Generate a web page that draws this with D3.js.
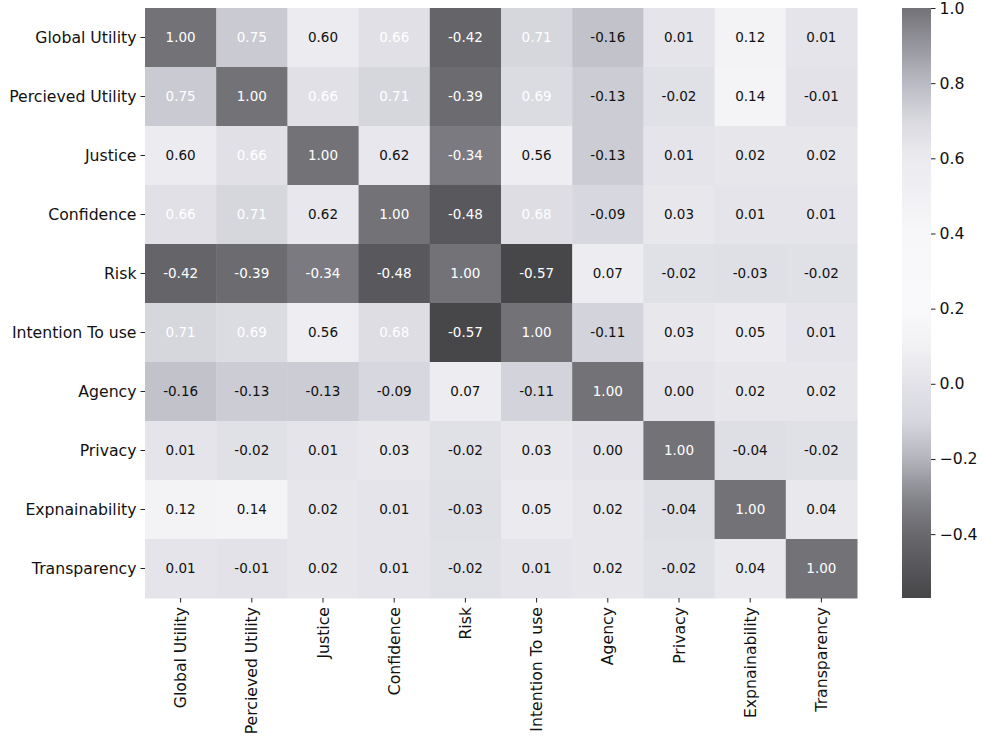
<!DOCTYPE html>
<html>
<head>
<meta charset="utf-8">
<script src="https://cdn.jsdelivr.net/npm/d3@7"></script>
<style>
  body { margin: 0; background: #fff; }
  text { font-family: "DejaVu Sans", sans-serif; }
  .axis path { display: none; }
  .axis line { stroke: #222; }
</style>
</head>
<body>
<div id="chart"></div>
<script>
// variable names, same order on both axes
const labels = ["Global Utility", "Percieved Utility", "Justice", "Confidence", "Risk",
  "Intention To use", "Agency", "Privacy", "Expnainability", "Transparency"];

// correlation rows (hidden white labels estimated)
const rowGlobalUtility   = [1.00, 0.75, 0.60, 0.66, -0.42, 0.71, -0.16, 0.01, 0.12, 0.01];
const rowPerceivedUtility = [0.75, 1.00, 0.66, 0.71, -0.39, 0.69, -0.13, -0.02, 0.14, -0.01];
const rowJustice         = [0.60, 0.66, 1.00, 0.62, -0.34, 0.56, -0.13, 0.01, 0.02, 0.02];
const rowConfidence      = [0.66, 0.71, 0.62, 1.00, -0.48, 0.68, -0.09, 0.03, 0.01, 0.01];
const rowRisk            = [-0.42, -0.39, -0.34, -0.48, 1.00, -0.57, 0.07, -0.02, -0.03, -0.02];
const rowIntention       = [0.71, 0.69, 0.56, 0.68, -0.57, 1.00, -0.11, 0.03, 0.05, 0.01];
const rowAgency          = [-0.16, -0.13, -0.13, -0.09, 0.07, -0.11, 1.00, 0.00, 0.02, 0.02];
const rowPrivacy         = [0.01, -0.02, 0.01, 0.03, -0.02, 0.03, 0.00, 1.00, -0.04, -0.02];
const rowExplainability  = [0.12, 0.14, 0.02, 0.01, -0.03, 0.05, 0.02, -0.04, 1.00, 0.04];
const rowTransparency    = [0.01, -0.01, 0.02, 0.01, -0.02, 0.01, 0.02, -0.02, 0.04, 1.00];

const matrix = [rowGlobalUtility, rowPerceivedUtility, rowJustice, rowConfidence, rowRisk,
  rowIntention, rowAgency, rowPrivacy, rowExplainability, rowTransparency];

const colorTicks = [-0.4, -0.2, 0.0, 0.2, 0.4, 0.6, 0.8, 1.0];

const width = 984, height = 742;
const margin = { top: 8, left: 145, right: 127, bottom: 144 };
const innerW = width - margin.left - margin.right;   // 712
const innerH = height - margin.top - margin.bottom;  // 590

const vmin = d3.min(matrix.flat()), vmax = d3.max(matrix.flat());

// grey-ish colormap, dark at both ends and white around 0.2-0.4
const color = d3.scaleLinear()
  .domain([-0.57, -0.4, -0.3, -0.2, -0.1, 0.0, 0.1, 0.2, 0.4, 0.6, 0.7, 0.8, 0.9, 1.0])
  .range(["#47474a", "#68686d", "#86868d", "#b4b4bc", "#d6d6de", "#e3e3e9", "#f1f1f4",
    "#f9f9fb", "#f7f7f9", "#ebebf0", "#d9d9e0", "#babac4", "#96969e", "#727277"])
  .clamp(true);

const svg = d3.select("#chart").append("svg")
  .attr("width", width).attr("height", height);

const g = svg.append("g").attr("transform", `translate(${margin.left},${margin.top})`);

const x = d3.scaleBand().domain(labels).range([0, innerW]);
const y = d3.scaleBand().domain(labels).range([0, innerH]);

const cells = matrix.flatMap((row, i) => row.map((v, j) => ({ r: labels[i], c: labels[j], v })));

g.selectAll("rect.cell").data(cells).join("rect")
  .attr("class", "cell")
  .attr("x", d => x(d.c))
  .attr("y", d => y(d.r))
  .attr("width", x.bandwidth() + 0.5)
  .attr("height", y.bandwidth() + 0.5)
  .attr("fill", d => color(d.v));

g.selectAll("text.annot").data(cells).join("text")
  .attr("class", "annot")
  .attr("x", d => x(d.c) + x.bandwidth() / 2)
  .attr("y", d => y(d.r) + y.bandwidth() / 2)
  .attr("dy", "0.36em")
  .attr("text-anchor", "middle")
  .attr("font-size", 13.5)
  .attr("fill", d => (d.v > 0.65 || d.v < -0.3) ? "#fff" : "#111")
  .text(d => d.v.toFixed(2));

// row labels
g.append("g").attr("class", "axis")
  .call(d3.axisLeft(y).tickSize(4.5).tickPadding(4))
  .selectAll("text").attr("font-size", 15.7).attr("fill", "#111");

// column labels, rotated
g.append("g").attr("class", "axis")
  .attr("transform", `translate(0,${innerH})`)
  .call(d3.axisBottom(x).tickSize(4.5).tickPadding(4))
  .selectAll("text")
  .attr("font-size", 15.7).attr("fill", "#111")
  .attr("text-anchor", "end")
  .attr("transform", "rotate(-90)")
  .attr("x", -9).attr("y", 0).attr("dy", "0.35em");

// colorbar
const cbX = 902, cbW = 29;
const cy = d3.scaleLinear().domain([vmin, vmax]).range([margin.top + innerH, margin.top]);
const defs = svg.append("defs");
const grad = defs.append("linearGradient").attr("id", "cbgrad")
  .attr("x1", 0).attr("y1", 1).attr("x2", 0).attr("y2", 0);
d3.range(0, 1.0001, 0.02).forEach(t => {
  grad.append("stop").attr("offset", t).attr("stop-color", color(vmin + t * (vmax - vmin)));
});
svg.append("rect")
  .attr("x", cbX).attr("y", cy(vmax))
  .attr("width", cbW).attr("height", cy(vmin) - cy(vmax))
  .attr("fill", "url(#cbgrad)");

svg.append("g").attr("class", "axis")
  .attr("transform", `translate(${cbX + cbW},0)`)
  .call(d3.axisRight(cy).tickValues(colorTicks).tickSize(4.5).tickPadding(4)
    .tickFormat(d => d3.format(".1f")(d).replace("-", "\u2212")))
  .selectAll("text").attr("font-size", 15.7).attr("fill", "#111");
</script>
</body>
</html>
